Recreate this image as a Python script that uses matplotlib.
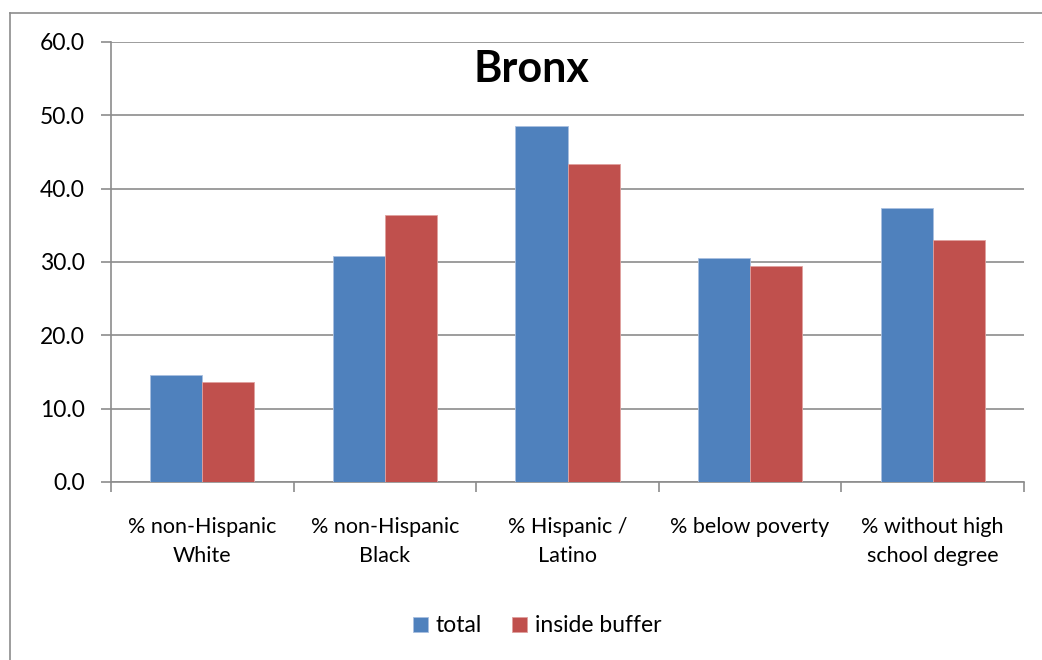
import matplotlib
matplotlib.use("Agg")
import matplotlib.pyplot as plt
from matplotlib.lines import Line2D
import numpy as np

plt.rcParams['font.family'] = ['Lato', 'DejaVu Sans']

categories = ["% non-Hispanic\nWhite", "% non-Hispanic\nBlack", "% Hispanic /\nLatino",
              "% below poverty", "% without high\nschool degree"]
total = [14.6, 30.8, 48.6, 30.5, 37.4]
inside_buffer = [13.7, 36.4, 43.3, 29.4, 33.0]
series_names = ["total", "inside buffer"]
colors = ["#4F81BD", "#C0504D"]

W, H = 1042, 660
fig = plt.figure(figsize=(W / 100, H / 100), dpi=100)

# chart area border (left and top edges)
border = dict(transform=fig.transFigure, color="#8c8c8c", linewidth=1.2)
fig.lines.append(Line2D([10 / W, 10 / W], [0, 1 - 13 / H], **border))
fig.lines.append(Line2D([10 / W, 1], [1 - 13 / H, 1 - 13 / H], **border))

ax = fig.add_axes([111 / W, 1 - 482 / H, (1024 - 111) / W, (482 - 42) / H])

x = np.arange(len(categories))
w = 1 / 3.5
ax.bar(x - w / 2, total, w, color=colors[0], edgecolor="#a9c0e0", linewidth=0.6,
       label=series_names[0], zorder=3)
ax.bar(x + w / 2, inside_buffer, w, color=colors[1], edgecolor="#e0a09e", linewidth=0.6,
       label=series_names[1], zorder=3)

ax.set_xlim(-0.5, len(categories) - 0.5)
ax.set_ylim(0, 60)
ax.set_yticks(np.arange(0, 61, 10))
ax.set_yticklabels([f"{v:.1f}" for v in np.arange(0, 61, 10)])
ax.yaxis.grid(True, color="#8c8c8c", linewidth=1.2, zorder=0)
ax.set_axisbelow(True)

for s in ["top", "right"]:
    ax.spines[s].set_visible(False)
for s in ["left", "bottom"]:
    ax.spines[s].set_color("#8c8c8c")
    ax.spines[s].set_linewidth(1.2)

ax.set_xticks(np.arange(-0.5, len(categories), 1.0))
ax.set_xticklabels([])
ax.set_xticks(x, minor=True)
ax.set_xticklabels(categories, minor=True, fontsize=15.5, linespacing=1.6)
ax.tick_params(axis="x", which="major", length=7, color="#8c8c8c", width=1.2, direction="out")
ax.tick_params(axis="x", which="minor", length=0, pad=25)
ax.tick_params(axis="y", length=7, color="#8c8c8c", width=1.2, labelsize=16.5, pad=12)

ax.text(0.461, 0.984, "Bronx", transform=ax.transAxes, ha="center", va="top",
        fontsize=31, fontweight="bold")

fig.legend(loc="center", bbox_to_anchor=(537 / W, 1 - 626 / H), ncol=2, frameon=False,
           fontsize=16.5, handlelength=0.65, handleheight=0.65, handletextpad=0.35,
           columnspacing=1.3)

fig.savefig("out.png", dpi=100)
